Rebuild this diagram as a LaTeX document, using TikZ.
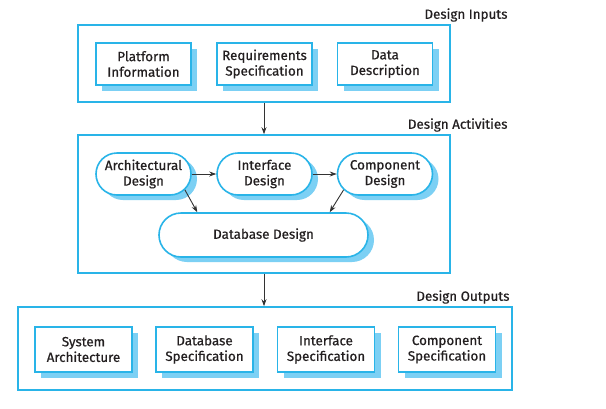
\documentclass[tikz,border=0pt]{standalone}
\usepackage{fontspec}
\setmainfont[FakeBold=0.6]{Fira Sans}
\usetikzlibrary{shapes.misc,shadows,arrows.meta}
\definecolor{edge}{HTML}{29B4E8}
\definecolor{shade}{HTML}{7CD0F4}
\definecolor{ink}{HTML}{231F20}
\definecolor{wire}{HTML}{333333}
\begin{document}
\begin{tikzpicture}[x=1pt,y=-1pt,
  every node/.style={font=\fontsize{13.4}{15.6}\selectfont, text=ink, align=center},
  stage/.style={draw=edge, line width=1.6pt, fill=white, inner sep=0pt},
  docbox/.style={rectangle, draw=edge, line width=1.6pt, fill=white,
    minimum width=95pt, minimum height=42pt, inner sep=0pt,
    drop shadow={shadow xshift=6pt, shadow yshift=-6pt, fill=shade, opacity=1}},
  actbox/.style={rounded rectangle, draw=edge, line width=1.6pt, fill=white,
    minimum width=95pt, minimum height=42pt, inner sep=0pt,
    drop shadow={shadow xshift=6pt, shadow yshift=-5pt, fill=shade, opacity=1}},
  caption/.style={anchor=east},
  flow/.style={draw=wire, line width=0.9pt, -{Stealth[length=7pt,width=5pt]}}]
\useasboundingbox (0,0) rectangle (606,408);

% stage frames
\node[stage, minimum width=372pt, minimum height=77pt] (inputs) at (264,63.5) {};
\node[stage, minimum width=372pt, minimum height=138pt] (acts) at (264,204) {};
\node[stage, minimum width=494pt, minimum height=83pt] (outs) at (265,348.5) {};

% stage captions
\node[caption] (capin) at (511,15) {Design Inputs};
\node[caption] (capact) at (511,125) {Design Activities};
\node[caption] (capout) at (513,297) {Design Outputs};

% design inputs
\node[docbox] (plat) at (143.5,64) {Platform\\Information};
\node[docbox] (req) at (264.5,64) {Requirements\\Specification};
\node[docbox] (data) at (385,64) {Data\\Description};

% design activities
\node[actbox] (arch) at (143.5,174) {Architectural\\Design};
\node[actbox] (iface) at (264.5,174) {Interface\\Design};
\node[actbox] (comp) at (385,174) {Component\\Design};
\node[actbox, minimum width=209pt, minimum height=44pt] (db) at (263.5,235) {Database Design};

% design outputs
\node[docbox, minimum width=97pt, minimum height=45pt] (sysarch) at (83.5,349.5) {System\\Architecture};
\node[docbox, minimum width=97pt, minimum height=45pt] (dbspec) at (204.5,349.5) {Database\\Specification};
\node[docbox, minimum width=97pt, minimum height=45pt] (ifspec) at (326,349.5) {Interface\\Specification};
\node[docbox, minimum width=97pt, minimum height=45pt] (compspec) at (447,349.5) {Component\\Specification};

% connectors
\draw[flow] (inputs.south) -- (acts.north);
\draw[flow] (acts.south) -- (acts.south |- outs.north);
\draw[flow] (arch.east) -- (iface.west);
\draw[flow] (iface.east) -- (comp.west);
\draw[flow] (arch.-21) -- (db.161);
\draw[flow] (comp.-159) -- (db.19);
\end{tikzpicture}
\end{document}
